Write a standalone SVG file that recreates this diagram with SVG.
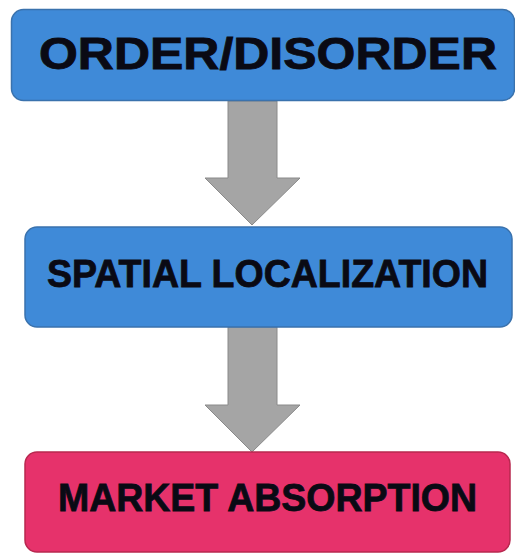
<svg xmlns="http://www.w3.org/2000/svg" width="515" height="554" viewBox="0 0 515 554">
<style>
.box{stroke-width:1.5}
.blue{fill:#3f8ad8;stroke:#3a72ad}
.pink{fill:#e6326b;stroke:#b8284f}
.lbl{font-family:"Liberation Sans",Arial,sans-serif;font-weight:bold;fill:#0a0a14;stroke:#0a0a14;stroke-width:0.8;text-anchor:start}
.arrow{fill:#a5a5a5;stroke:#8a8a8a;stroke-width:1}
</style>
<rect width="515" height="554" fill="#ffffff"/>
<g id="connectors">
<polygon class="arrow" points="228,101 277,101 277,178 300,178 252,225 205,178 228,178"/>
<polygon class="arrow" points="228,327 277,327 277,405 300,405 252,452 205,405 228,405"/>
</g>
<g id="node-order">
<rect class="box blue" x="11.5" y="9.5" width="503" height="91" rx="12"/>
<text class="lbl" x="39" y="69" font-size="44" textLength="458" lengthAdjust="spacingAndGlyphs">ORDER/DISORDER</text>
</g>
<g id="node-spatial">
<rect class="box blue" x="25" y="227" width="487" height="100" rx="12"/>
<text class="lbl" x="47" y="287" font-size="39" textLength="441" lengthAdjust="spacingAndGlyphs">SPATIAL LOCALIZATION</text>
</g>
<g id="node-market">
<rect class="box pink" x="25" y="452" width="485" height="100" rx="12"/>
<text class="lbl" x="58" y="511" font-size="39" textLength="419" lengthAdjust="spacingAndGlyphs">MARKET ABSORPTION</text>
</g>
</svg>
